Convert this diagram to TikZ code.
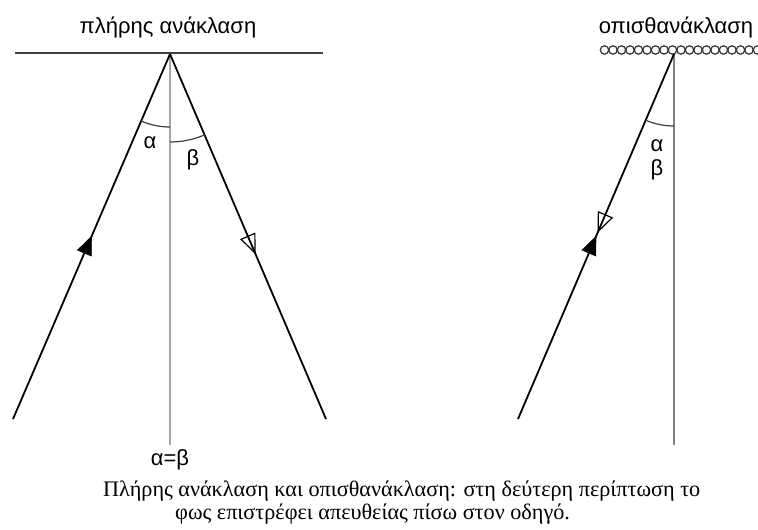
\documentclass[tikz,border=0pt]{standalone}
\usepackage{fontspec}
\setmainfont{Liberation Serif}
\newfontfamily\labelfont{Liberation Sans}
\usetikzlibrary{calc}
\begin{document}
\begin{tikzpicture}[x=1pt,y=-1pt,
  ray/.style={line width=1.8pt,black},
  normal/.style={line width=2pt,color=black!35},
  normaldark/.style={line width=2pt,color=black!50},
  mirror/.style={line width=2pt,color=black!75},
  anglearc/.style={line width=1.2pt,color=black!75},
  bead/.style={line width=1.2pt,color=black!80},
  solidhead/.style={fill=black,draw=black,line width=0.6pt,line join=miter},
  hollowhead/.style={draw=black,line width=1.2pt,line join=miter},
  lbl/.style={inner sep=0pt,font=\labelfont\fontsize{22}{26}\selectfont},
  captext/.style={inner sep=0pt,anchor=base west,font=\fontsize{22.2}{26}\selectfont},
]
\useasboundingbox (0,0) rectangle (758,530);
\fill[white] (0,0) rectangle (758,530);

% left: total reflection
\coordinate (A) at (170,54);
\coordinate (ML) at (15,53);
\coordinate (MR) at (323,53);
\coordinate (NB) at (170,445);
\coordinate (IL) at (13,419);
\coordinate (RR) at (326,419);
\draw[normal] (A) -- (NB);
\draw[mirror] (ML) -- (MR);
\draw[ray] (IL) -- (A);
\draw[ray] (A) -- (RR);
% arrowheads
\coordinate (TL) at ($(IL)!0.5!(A)$);
\coordinate (TLb) at ($(TL)!18pt!(IL)$);
\draw[solidhead] (TL) -- ($(TLb)!7.5pt!90:(TL)$) -- ($(TLb)!7.5pt!-90:(TL)$) -- cycle;
\coordinate (TR) at ($(A)!0.545!(RR)$);
\coordinate (TRb) at ($(TR)!18pt!(A)$);
\draw[hollowhead] (TR) -- ($(TRb)!7.5pt!90:(TR)$) -- ($(TRb)!7.5pt!-90:(TR)$) -- cycle;
\draw[anglearc] (A) ++(113.3:73) arc[start angle=113.3,end angle=90,radius=73];
\draw[anglearc] (A) ++(90:88) arc[start angle=90,end angle=66.8,radius=88];

% right: retroreflection
\coordinate (B) at (674,54);
\coordinate (NB2) at (674,445);
\coordinate (IB) at (518,419);
\foreach \i in {0,...,18} \draw[bead] (604.5+8.5*\i,50) circle[radius=4.2];
\draw[normaldark] (B) -- (NB2);
\draw[ray] (IB) -- (B);
\coordinate (TU) at ($(IB)!0.5!(B)$);
\coordinate (TUb) at ($(TU)!18pt!(IB)$);
\draw[solidhead] (TU) -- ($(TUb)!7.5pt!90:(TU)$) -- ($(TUb)!7.5pt!-90:(TU)$) -- cycle;
\coordinate (TD) at ($(IB)!0.514!(B)$);
\coordinate (TDb) at ($(TD)!18pt!(B)$);
\draw[hollowhead] (TD) -- ($(TDb)!7.5pt!90:(TD)$) -- ($(TDb)!7.5pt!-90:(TD)$) -- cycle;
\draw[anglearc] (B) ++(113.2:72) arc[start angle=113.2,end angle=90,radius=72];

% labels
\node[lbl] (t1) at (168,27) {πλήρης ανάκλαση};
\node[lbl] (t2) at (676,27) {οπισθανάκλαση};
\node[lbl] (a1) at (150,143) {α};
\node[lbl] (b1) at (193,160) {β};
\node[lbl] (a2) at (657,146) {α};
\node[lbl] (b2) at (657,170) {β};
\node[lbl] (ab) at (170,460) {α=β};

\node[captext] (c1) at (103,496) {Πλήρης ανάκλαση και οπισθανάκλαση: στη δεύτερη περίπτωση το};
\node[captext] (c2) at (175,519) {φως επιστρέφει απευθείας πίσω στον οδηγό.};
\end{tikzpicture}
\end{document}
